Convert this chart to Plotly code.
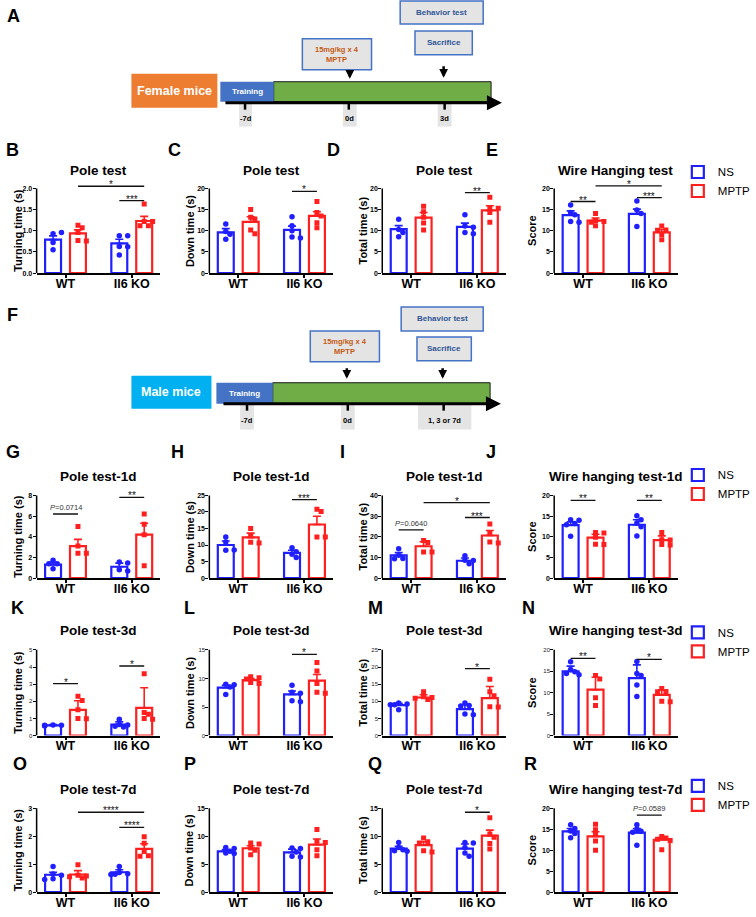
import plotly.graph_objects as go

W, H = 756, 917
FONT = "Liberation Sans, Arial, sans-serif"
BLUE = "#1f1fff"
RED = "#ff1f1f"
GREY_BOX = "#e4e4e4"

# ---------------- data ----------------
groups = ["WT", "Il6 KO"]
conditions = ["NS", "MPTP"]
# bar order in every panel: WT-NS, WT-MPTP, KO-NS, KO-MPTP
bar_x = [0, 1, 2.66, 3.66]

B_mean = [0.79, 0.94, 0.70, 1.23]
B_sem = [0.09, 0.08, 0.10, 0.11]
B_pts = [[0.93, 0.96, 0.55, 0.72], [1.13, 1.07, 0.96, 0.77, 0.76],
         [0.88, 0.88, 0.63, 0.62, 0.43], [1.63, 1.22, 1.22, 1.12, 1.12]]
B_sig = [(1, 3, 2.05, "*"), (2, 3, 1.71, "***")]

C_mean = [9.6, 12.1, 10.2, 13.5]
C_sem = [0.9, 1.2, 0.9, 1.0]
C_pts = [[11.6, 9.8, 9.2, 8.0], [15.0, 13.2, 12.8, 10.2, 9.3],
         [13.3, 11.2, 10.0, 8.5, 8.3], [16.9, 14.3, 13.5, 11.9, 10.7]]
C_sig = [(2, 3, 19.3, "*")]

D_mean = [10.4, 13.1, 10.9, 14.8]
D_sem = [0.8, 1.2, 0.9, 1.1]
D_pts = [[12.7, 10.3, 9.6, 8.6], [15.8, 14.5, 13.2, 11.8, 10.2],
         [13.8, 11.1, 10.8, 9.6, 9.3], [17.9, 15.5, 15.3, 14.3, 12.0]]
D_sig = [(2, 3, 19.0, "**")]

E_mean = [13.7, 12.4, 14.0, 9.6]
E_sem = [1.0, 0.6, 1.1, 0.7]
E_pts = [[16.1, 14.3, 13.8, 12.2, 12.0], [14.1, 12.4, 12.2, 12.0, 11.2],
         [17.0, 14.9, 14.1, 11.0], [11.1, 10.2, 10.1, 9.1, 7.9]]
E_sig = [(0, 1, 16.9, "**"), (1, 3, 20.6, "*"), (2, 3, 17.8, "***")]

G_mean = [1.3, 3.1, 1.1, 4.2]
G_sem = [0.22, 0.65, 0.35, 1.1]
G_pts = [[1.72, 1.4, 1.38, 0.9], [5.0, 3.1, 2.4, 2.4],
         [1.55, 1.45, 0.8, 0.68], [6.2, 5.2, 4.2, 1.2]]
G_sig = [(0, 1, 6.2, "<i>P</i>=0.0714"), (2, 3, 7.8, "**")]

H_mean = [10.0, 12.3, 7.6, 16.2]
H_sem = [1.2, 1.3, 0.8, 2.5]
H_pts = [[12.4, 10.9, 8.4, 8.5], [15.0, 12.8, 10.8, 10.6],
         [9.2, 8.0, 7.2, 6.2], [20.8, 20.1, 12.4, 12.4]]
H_sig = [(2, 3, 23.7, "***")]

I_mean = [11.0, 15.4, 8.4, 20.6]
I_sem = [1.3, 2.2, 1.3, 2.4]
I_pts = [[14.2, 11.0, 9.5, 9.3], [18.2, 17.2, 12.6, 12.6],
         [10.8, 8.6, 8.5, 7.0], [26.1, 21.6, 17.4, 17.0]]
I_sig = [(0, 1, 23.3, "<i>P</i>=0.0640"), (1, 3, 36.5, "*"), (2, 3, 29.3, "***")]

J_mean = [12.8, 9.8, 12.9, 9.2]
J_sem = [0.8, 0.8, 1.2, 1.0]
J_pts = [[14.1, 14.0, 13.2, 12.9, 10.1], [11.0, 10.9, 9.9, 8.2, 8.1],
         [15.1, 14.1, 13.3, 12.4, 10.2], [11.0, 9.3, 9.2, 8.1, 8.0]]
J_sig = [(0, 1, 18.8, "**"), (2, 3, 18.8, "**")]

K_mean = [0.59, 1.50, 0.64, 1.62]
K_sem = [0.05, 0.53, 0.16, 1.17]
K_pts = [[0.62, 0.60, 0.58, 0.57, 0.60], [2.3, 2.05, 1.5, 1.0, 0.98],
         [0.95, 0.65, 0.62, 0.55, 0.50], [3.6, 1.35, 1.25, 1.0, 0.95]]
K_sig = [(0, 1, 3.03, "*"), (2, 3, 4.06, "*")]

L_mean = [8.4, 9.7, 7.2, 9.6]
L_sem = [0.4, 0.3, 0.6, 1.1]
L_pts = [[9.0, 8.9, 8.5, 7.2], [10.3, 10.1, 9.9, 9.3, 9.1],
         [8.8, 7.6, 7.4, 6.1, 5.9], [12.8, 11.3, 9.1, 7.6, 7.4]]
L_sig = [(2, 3, 14.2, "*")]

M_mean = [8.9, 11.1, 7.7, 10.9]
M_sem = [0.5, 0.8, 1.3, 3.4]
M_pts = [[9.5, 9.2, 9.0, 9.0, 7.5], [12.8, 11.3, 11.1, 10.9, 10.5],
         [9.5, 8.8, 8.6, 6.3, 6.1], [16.4, 12.8, 11.6, 8.4, 8.3]]
M_sig = [(2, 3, 19.5, "*")]

N_mean = [15.0, 10.7, 13.4, 9.5]
N_sem = [1.2, 2.9, 3.1, 1.2]
N_pts = [[17.2, 15.4, 14.9, 14.5, 14.2], [14.0, 13.2, 8.8, 7.0],
         [17.3, 14.5, 14.0, 11.8, 9.1], [11.0, 10.3, 10.2, 8.0, 7.9]]
N_sig = [(0, 1, 18.0, "**"), (2, 3, 17.8, "*")]

O_mean = [0.62, 0.63, 0.71, 1.55]
O_sem = [0.09, 0.14, 0.09, 0.18]
O_pts = [[0.92, 0.65, 0.60, 0.48, 0.45], [0.98, 0.60, 0.58, 0.55, 0.50],
         [0.92, 0.70, 0.66, 0.64, 0.63], [1.98, 1.75, 1.45, 1.30, 1.28]]
O_sig = [(1, 3, 2.86, "****"), (2, 3, 2.32, "****")]

P_mean = [7.3, 7.85, 7.1, 8.5]
P_sem = [0.3, 0.45, 0.6, 1.0]
P_pts = [[8.0, 7.8, 7.3, 7.0, 6.9], [8.8, 8.6, 7.9, 7.5, 6.7],
         [7.9, 7.8, 7.2, 6.4, 6.3], [11.2, 9.1, 8.9, 7.6, 6.5]]
P_sig = []

Q_mean = [7.8, 8.4, 7.8, 10.1]
Q_sem = [0.4, 0.6, 0.8, 1.0]
Q_pts = [[8.9, 8.0, 7.6, 7.4, 7.3], [9.7, 9.0, 8.8, 7.4, 7.2],
         [8.9, 8.8, 8.0, 7.0, 6.4], [13.3, 10.4, 9.8, 8.7, 7.7]]
Q_sig = [(2, 3, 14.3, "*")]

R_mean = [14.5, 13.3, 14.2, 12.5]
R_sem = [0.7, 1.1, 1.0, 0.5]
R_pts = [[16.1, 15.2, 14.6, 14.0, 13.0], [16.2, 14.9, 13.8, 12.2, 10.0],
         [16.1, 15.0, 14.5, 14.3, 11.2], [13.3, 12.9, 12.6, 12.3, 10.1]]
R_sig = [(2, 3, 18.4, "<i>P</i>=0.0589")]

ytitles = ["Turning time (s)", "Down time (s)", "Total time (s)", "Score"]
row_titles = [
    ["Pole test", "Pole test", "Pole test", "Wire Hanging test"],
    ["Pole test-1d", "Pole test-1d", "Pole test-1d", "Wire hanging test-1d"],
    ["Pole test-3d", "Pole test-3d", "Pole test-3d", "Wire hanging test-3d"],
    ["Pole test-7d", "Pole test-7d", "Pole test-7d", "Wire hanging test-7d"],
]
# (top tick, tick step)
y_scales = [
    [(2.0, 0.5), (20, 5), (20, 5), (20, 5)],
    [(8, 2), (25, 5), (40, 10), (20, 5)],
    [(5, 1), (15, 5), (25, 5), (20, 5)],
    [(3, 1), (15, 5), (15, 5), (20, 5)],
]
panel_data = [
    [(B_mean, B_sem, B_pts, B_sig), (C_mean, C_sem, C_pts, C_sig),
     (D_mean, D_sem, D_pts, D_sig), (E_mean, E_sem, E_pts, E_sig)],
    [(G_mean, G_sem, G_pts, G_sig), (H_mean, H_sem, H_pts, H_sig),
     (I_mean, I_sem, I_pts, I_sig), (J_mean, J_sem, J_pts, J_sig)],
    [(K_mean, K_sem, K_pts, K_sig), (L_mean, L_sem, L_pts, L_sig),
     (M_mean, M_sem, M_pts, M_sig), (N_mean, N_sem, N_pts, N_sig)],
    [(O_mean, O_sem, O_pts, O_sig), (P_mean, P_sem, P_pts, P_sig),
     (Q_mean, Q_sem, Q_pts, Q_sig), (R_mean, R_sem, R_pts, R_sig)],
]

# ---------------- geometry (pixels) ----------------
UNIT = 25.2                       # px per x unit
col_first_bar = [53.7, 228.5, 403.5, 577.5]
ytitle_off = [18.5, 20, 19.5, 22]
row_zero = [274, 580, 738, 895]
row_top = [189, 497, 652, 811]
row_title_y = [171, 478, 633, 792]
row_legend_y = [158, 462, 620, 774]
X_RANGE = [-0.66, 4.3]
Y_EXT = 1.2

panel_letters = [("A", 14, 16), ("B", 13, 150), ("C", 177, 150), ("D", 338, 150), ("E", 498, 150),
                 ("F", 13, 316), ("G", 13, 453), ("H", 180, 453), ("I", 347, 453), ("J", 497, 453),
                 ("K", 18, 610), ("L", 192, 610), ("M", 380, 610), ("N", 535, 610),
                 ("O", 20, 767), ("P", 192, 767), ("Q", 380, 767), ("R", 537, 767)]


def swarm(vals, px_per_unit, size=5.0):
    placed, offs = [], []
    for v in vals:
        y = v * px_per_unit
        dx = 0
        for k in (0, 1, -1, 2, -2):
            dx = k * size * 0.85
            if all((dx - a) ** 2 + (y - b) ** 2 >= (size * 0.9) ** 2 for a, b in placed):
                break
        placed.append((dx, y))
        offs.append(dx / UNIT)
    return offs


fig = go.Figure()
shapes, annotations = [], []
layout = {}

n = 0
for r in range(4):
    for c in range(4):
        n += 1
        ax = "" if n == 1 else str(n)
        mean, sem, pts, sig = panel_data[r][c]
        ytop, dtick = y_scales[r][c]
        c0 = col_first_bar[c]
        x_dom = [(c0 + X_RANGE[0] * UNIT) / W, (c0 + X_RANGE[1] * UNIT) / W]
        y0, yt = row_zero[r], row_top[r]
        ext_px = y0 - Y_EXT * (y0 - yt)
        y_dom = [1 - y0 / H, 1 - ext_px / H]
        px_per_unit = (y0 - yt) / ytop

        tick_font = dict(family=FONT, size=7, color="black", weight="bold")
        if r == 2:
            tick_font = dict(family=FONT, size=6, color="#222")
        layout["xaxis" + ax] = dict(
            domain=x_dom, range=X_RANGE, anchor="y" + ax, showline=True, linecolor="black",
            linewidth=1.5, ticks="outside", ticklen=3, tickwidth=1.5, tickcolor="black",
            tickvals=[(bar_x[0] + bar_x[1]) / 2, (bar_x[2] + bar_x[3]) / 2], ticktext=groups,
            tickfont=dict(family=FONT, size=12.5, color="black", weight="bold"),
            ticklabelstandoff=-5, showgrid=False, zeroline=False, fixedrange=True)
        ticks = [round(i * dtick, 3) for i in range(int(round(ytop / dtick)) + 1)]
        layout["yaxis" + ax] = dict(
            domain=y_dom, range=[0, ytop * Y_EXT], anchor="x" + ax, showline=False,
            ticks="outside", ticklen=3, tickwidth=1.3, tickcolor="black", tickvals=ticks,
            tickformat=".1f" if dtick < 1 else "d", tickfont=tick_font, ticklabelstandoff=-1,
            showgrid=False, zeroline=False, fixedrange=True)

        # y axis line only up to the top tick
        shapes.append(dict(type="line", xref="x" + ax + " domain", yref="y" + ax,
                           x0=0, x1=0, y0=0, y1=ytop, line=dict(color="black", width=1.5)))

        for k, (cond, color, sym) in enumerate([("NS", BLUE, "circle"), ("MPTP", RED, "square")]):
            idx = [k, k + 2]
            fig.add_trace(go.Bar(
                x=[bar_x[i] for i in idx], y=[mean[i] for i in idx], width=0.64,
                marker=dict(color="white", line=dict(color=color, width=2.2)),
                error_y=dict(type="data", symmetric=False, array=[sem[i] for i in idx],
                             arrayminus=[0, 0], color=color, thickness=1.6, width=4),
                name=cond, xaxis="x" + ax, yaxis="y" + ax,
                showlegend=(c == 3), legend="legend" if r == 0 else "legend%d" % (r + 1),
                hoverinfo="skip"))
            xs, ys = [], []
            for i in idx:
                offs = swarm(pts[i], px_per_unit)
                xs += [bar_x[i] + o for o in offs]
                ys += pts[i]
            fig.add_trace(go.Scatter(
                x=xs, y=ys, mode="markers", xaxis="x" + ax, yaxis="y" + ax,
                marker=dict(color=color, size=5.5 if sym == "circle" else 5, symbol=sym,
                            line=dict(width=0)),
                showlegend=False, hoverinfo="skip"))

        for i, j, yv, label in sig:
            shapes.append(dict(type="line", xref="x" + ax, yref="y" + ax, x0=bar_x[i], x1=bar_x[j],
                               y0=yv, y1=yv, line=dict(color="#111", width=1.3)))
            is_p = label.startswith("<i>")
            annotations.append(dict(
                text=label, xref="x" + ax, yref="y" + ax, x=(bar_x[i] + bar_x[j]) / 2, y=yv,
                xanchor="center", yanchor="bottom", showarrow=False, yshift=0 if is_p else -6,
                font=dict(family=FONT, size=7.5 if is_p else 10, color="#333" if is_p else "#111")))

        annotations.append(dict(
            text=row_titles[r][c], xref="x" + ax + " domain", yref="paper", x=0.5,
            y=1 - row_title_y[r] / H, xanchor="center", yanchor="middle", showarrow=False,
            font=dict(family=FONT, size=13.5, color="black", weight="bold")))
        annotations.append(dict(
            text=ytitles[c], xref="x" + ax + " domain", yref="y" + ax, x=0, y=ytop / 2,
            xshift=-ytitle_off[c], textangle=-90, xanchor="center", yanchor="middle",
            showarrow=False, font=dict(family=FONT, size=11, color="black", weight="bold")))

for r in range(4):
    key = "legend" if r == 0 else "legend%d" % (r + 1)
    layout[key] = dict(x=686 / W, y=1 - row_legend_y[r] / H, xanchor="left", yanchor="top",
                       bgcolor="rgba(0,0,0,0)", borderwidth=0, tracegroupgap=0,
                       font=dict(family=FONT, size=11.5, color="black"))

for letter, x, y in panel_letters:
    annotations.append(dict(text=letter, xref="paper", yref="paper", x=x / W, y=1 - y / H,
                            xanchor="center", yanchor="middle", showarrow=False,
                            font=dict(family=FONT, size=18, color="black", weight="bold")))


# ---------------- timelines (A, F) ----------------
def rect(x0, y0, x1, y1, fill, line_color=None, lw=0):
    shapes.append(dict(type="rect", xref="paper", yref="paper", x0=x0 / W, x1=x1 / W,
                       y0=1 - y1 / H, y1=1 - y0 / H, fillcolor=fill, layer="above",
                       line=dict(color=line_color or fill, width=lw)))


def label(text, x, y, size, color, bold=True):
    annotations.append(dict(text=text, xref="paper", yref="paper", x=x / W, y=1 - y / H,
                            xanchor="center", yanchor="middle", showarrow=False,
                            font=dict(family=FONT, size=size, color=color,
                                      weight="bold" if bold else "normal")))


def arrow(x_tip, y_tip, ax_px, ay_px, width, size):
    annotations.append(dict(text="", xref="paper", yref="paper", x=x_tip / W, y=1 - y_tip / H,
                            ax=ax_px, ay=ay_px, showarrow=True, arrowhead=2, arrowsize=size,
                            arrowwidth=width, arrowcolor="black", standoff=0))


timelines = [
    dict(mice=(133, 74, 220, 108), mice_text="Female mice", mice_color="#ed7d31",
         train=(223, 82, 277), green_end=497, bar_bottom=102, axis_y=103, axis_x=(230, 508),
         ticks=[248, 353, 450],
         tick_boxes=[(242, 255, "-7d"), (347, 361, "0d"), (443, 457, "3d")], tick_box_bottom=127,
         mptp=(306, 39, 376, 70), mptp_arrow=(354, 70, 79),
         behavior=(405, 1, 489, 24), sacrifice=(420, 31, 478, 55), end_arrow=(449, 65, 78)),
    dict(mice=(133, 377, 214, 410), mice_text="Male mice", mice_color="#00b0f0",
         train=(219, 384, 276), green_end=496, bar_bottom=405, axis_y=405, axis_x=(228, 507),
         ticks=[250, 352, 449],
         tick_boxes=[(243, 257, "-7d"), (345, 359, "0d"), (423, 477, "1, 3 or 7d")], tick_box_bottom=431,
         mptp=(314, 332, 384, 363), mptp_arrow=(351, 368, 380),
         behavior=(406, 308, 489, 332), sacrifice=(422, 338, 477, 362), end_arrow=(448, 368, 380)),
]

for t in timelines:
    x0, y0, x1, y1 = t["mice"]
    rect(x0, y0, x1, y1, t["mice_color"])
    label(t["mice_text"], (x0 + x1) / 2, (y0 + y1) / 2, 12.5, "white")
    tx0, ty0, tx1 = t["train"]
    rect(tx1, ty0, t["green_end"], t["bar_bottom"], "#70ad47", "#1a1a1a", 1)
    rect(tx0, ty0, tx1, t["bar_bottom"], "#4472c4")
    label("Training", (tx0 + tx1) / 2, (ty0 + t["bar_bottom"]) / 2, 8, "white")
    for bx0, bx1, txt in t["tick_boxes"]:
        rect(bx0, t["axis_y"] + 1, bx1, t["tick_box_bottom"], GREY_BOX)
        label(txt, (bx0 + bx1) / 2, (t["axis_y"] + 8 + t["tick_box_bottom"]) / 2, 7.5, "black")
    for tx in t["ticks"]:
        shapes.append(dict(type="line", xref="paper", yref="paper", x0=tx / W, x1=tx / W,
                           y0=1 - t["axis_y"] / H, y1=1 - (t["axis_y"] + 7) / H,
                           line=dict(color="black", width=2.5), layer="above"))
    ax0, ax1 = t["axis_x"]
    arrow(ax1, t["axis_y"], -(ax1 - ax0), 0, 3, 1)
    bx0, by0, bx1, by1 = t["mptp"]
    rect(bx0, by0, bx1, by1, GREY_BOX, "#4472c4", 1.5)
    label("15mg/kg x 4<br>MPTP", (bx0 + bx1) / 2, (by0 + by1) / 2, 7.5, "#c55a11")
    for box, txt in [(t["behavior"], "Behavior test"), (t["sacrifice"], "Sacrifice")]:
        bx0, by0, bx1, by1 = box
        rect(bx0, by0, bx1, by1, GREY_BOX, "#4472c4", 1.5)
        label(txt, (bx0 + bx1) / 2, (by0 + by1) / 2, 8, "#2f5597")
    for axx, ya, yb in [t["mptp_arrow"], t["end_arrow"]]:
        arrow(axx, yb, 0, -(yb - ya), 2.5, 0.7)

fig.update_layout(
    width=W, height=H, margin=dict(l=0, r=0, t=0, b=0),
    paper_bgcolor="white", plot_bgcolor="white", barmode="overlay",
    font=dict(family=FONT, color="black"),
    shapes=shapes, annotations=annotations, **layout)

# the page's default body margin would push the figure 8px down and right
fig.write_html("out.html", config={"displayModeBar": False},
               post_script="document.body.style.margin = '0';")
